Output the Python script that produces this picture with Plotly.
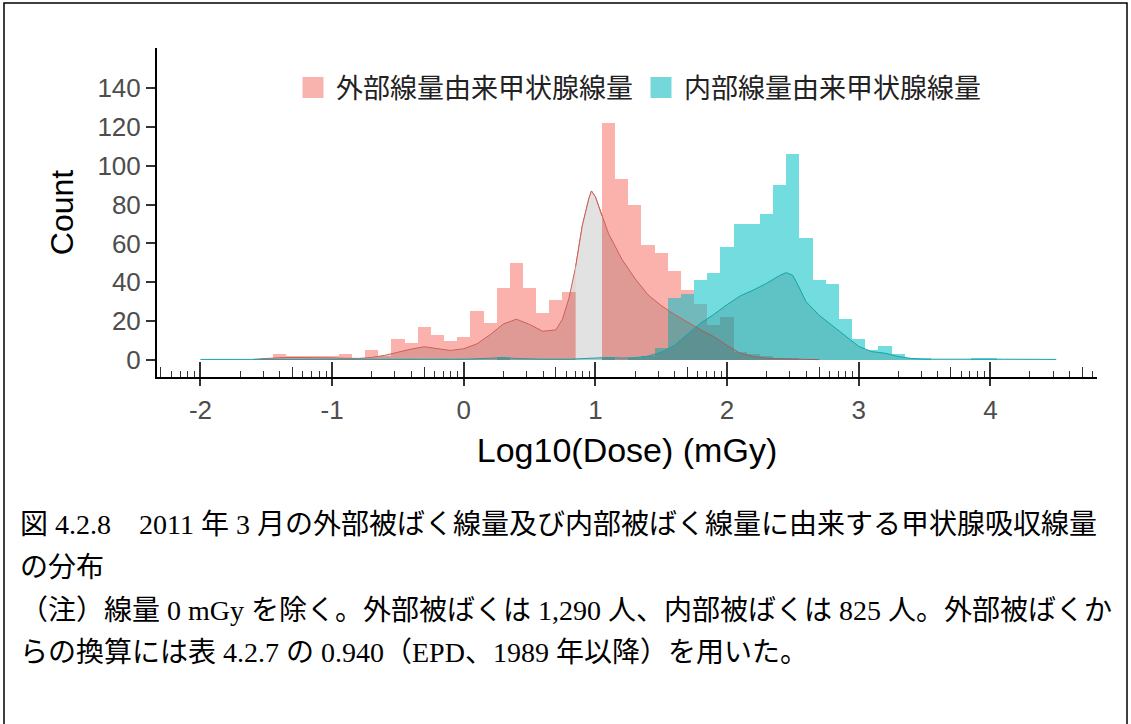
import math
import plotly.graph_objects as go

# ---------------- data ----------------
bin_centers = [-1.5, -1.4, -1.3, -1.2, -1.1, -1.0, -0.9, -0.8, -0.7, -0.6,
               -0.5, -0.4, -0.3, -0.2, -0.1, 0.0, 0.1, 0.2, 0.3, 0.4,
               0.5, 0.6, 0.7, 0.8, 0.9, 1.0, 1.1, 1.2, 1.3, 1.4,
               1.5, 1.6, 1.7, 1.8, 1.9, 2.0, 2.1, 2.2, 2.3, 2.4,
               2.5, 2.6, 2.7, 2.8, 2.9, 3.0, 3.1, 3.2, 3.3, 3.4,
               3.5, 3.6, 3.7, 3.8, 3.9, 4.0]
# external-dose derived thyroid dose counts (bins 0.9 and 1.0 are masked in the source)
ext_counts = [1, 3, 2, 2, 2, 2, 3, 1, 5, 2,
              11, 9, 17, 13, 10, 12, 25, 19, 37, 50,
              37, 24, 31, 35, None, None, 122, 93, 80, 59,
              55, 46, 36, 29, 18, 22, 4, 3, 2, 1,
              1, 0, 0, 0, 0, 0, 0, 0, 0, 0,
              0, 0, 0, 0, 0, 0]
# internal-dose derived thyroid dose counts
int_counts = [0, 0, 0, 0, 0, 0, 0, 0, 0, 0,
              0, 0, 0, 0, 0, 0, 0, 0, 1, 0,
              0, 0, 0, 0, 0, 1, 1, 0, 1, 2,
              6, 32, 34, 41, 45, 58, 70, 70, 75, 90,
              106, 63, 41, 39, 21, 11, 5, 7, 3, 1,
              1, 0, 0, 0, 1, 1]

ext_dens_x = [-1.6, -1.5, -1.4, -1.3, -1.2, -1.1, -1.0, -0.9, -0.8, -0.7,
              -0.6, -0.5, -0.4, -0.3, -0.2, -0.1, 0.0, 0.1, 0.2, 0.3,
              0.4, 0.5, 0.6, 0.7, 0.75, 0.8, 0.85, 0.9, 0.95, 0.97,
              1.0, 1.05, 1.1, 1.2, 1.3, 1.4, 1.5, 1.6, 1.7, 1.8,
              1.9, 2.0, 2.1, 2.2, 2.3, 2.4, 2.5, 2.6, 2.7]
ext_dens_y = [0.3, 0.8, 1.2, 1.3, 1.3, 1.2, 1.1, 0.9, 0.8, 1.3,
              2.4, 4.0, 5.6, 6.8, 6.0, 4.9, 5.8, 8.3, 13.0, 18.5,
              21.0, 18.3, 14.8, 15.5, 21.0, 32.0, 48.0, 69.0, 83.0, 87.0,
              84.0, 74.0, 65.0, 52.0, 42.0, 33.5, 28.0, 23.5, 19.3, 15.5,
              12.0, 7.5, 3.5, 1.8, 0.9, 0.6, 0.4, 0.3, 0.2]

int_dens_x = [-2.0, -1.5, -1.0, -0.5, 0.0, 0.2, 0.3, 0.4, 0.6, 0.8,
              0.9, 1.0, 1.1, 1.2, 1.3, 1.4, 1.5, 1.6, 1.7, 1.8,
              1.9, 2.0, 2.1, 2.2, 2.3, 2.4, 2.45, 2.5, 2.55, 2.6,
              2.7, 2.8, 2.9, 3.0, 3.1, 3.2, 3.3, 3.4, 3.5, 3.8,
              3.95, 4.1, 4.5]
int_dens_y = [0.3, 0.3, 0.3, 0.3, 0.4, 0.9, 1.3, 0.8, 0.4, 0.4,
              0.7, 1.2, 1.3, 1.0, 1.2, 2.0, 4.0, 7.5, 13.5, 19.0,
              23.5, 28.5, 33.0, 36.0, 39.5, 43.5, 45.0, 43.5, 37.0, 30.0,
              23.0, 17.5, 12.5, 7.0, 4.3, 3.5, 1.8, 0.8, 0.4, 0.4,
              0.7, 0.4, 0.3]

masked_range = [0.85, 1.05]   # region shown grey in the source figure

x_tick_vals = [-2, -1, 0, 1, 2, 3, 4]
x_tick_text = ["-2", "-1", "0", "1", "2", "3", "4"]
y_tick_vals = [0, 20, 40, 60, 80, 100, 120, 140]
y_tick_text = ["0", "20", "40", "60", "80", "100", "120", "140"]

series_names = ["外部線量由来甲状腺線量", "内部線量由来甲状腺線量"]
x_title = "Log10(Dose) (mGy)"
y_title = "Count"
caption_lines = [
    "図 4.2.8　2011 年 3 月の外部被ばく線量及び内部被ばく線量に由来する甲状腺吸収線量",
    "の分布",
    "（注）線量 0 mGy を除く。外部被ばくは 1,290 人、内部被ばくは 825 人。外部被ばくか",
    "らの換算には表 4.2.7 の 0.940（EPD、1989 年以降）を用いた。",
]

# ---------------- styling ----------------
W, H = 1131, 724
ML, MR, MT, MB = 157, 34, 48, 347
PW, PH = W - ML - MR, H - MT - MB
X_RANGE = [-2.33, 4.81]
Y_RANGE = [-8.75, 160.6]

PINK_BAR = "rgba(248,118,109,0.56)"
TEAL_BAR = "rgba(0,191,196,0.55)"
PINK_DENS_FILL = "rgba(120,60,55,0.20)"
TEAL_DENS_FILL = "rgba(15,90,95,0.20)"
PINK_LINE = "rgb(205,95,90)"
TEAL_LINE = "rgb(20,165,170)"
MASK_GREY = "#E2E2E2"


def px_x(px):
    return (px - ML) / PW


def px_y(py):
    return (H - MB - py) / PH


fig = go.Figure()

fig.add_trace(go.Bar(x=bin_centers, y=ext_counts, width=0.1, marker=dict(color=PINK_BAR, line=dict(width=0)),
                     name=series_names[0], showlegend=False))
fig.add_trace(go.Bar(x=bin_centers, y=int_counts, width=0.1, marker=dict(color=TEAL_BAR, line=dict(width=0)),
                     name=series_names[1], showlegend=False))

fig.add_trace(go.Scatter(x=ext_dens_x, y=ext_dens_y, mode="lines", fill="tozeroy",
                         fillcolor=PINK_DENS_FILL, line=dict(color=PINK_LINE, width=1),
                         showlegend=False, hoverinfo="skip"))

mx = [x for x in ext_dens_x if masked_range[0] <= x <= masked_range[1]]
my = [y for x, y in zip(ext_dens_x, ext_dens_y) if masked_range[0] <= x <= masked_range[1]]
fig.add_trace(go.Scatter(x=mx, y=my, mode="lines", fill="tozeroy", fillcolor=MASK_GREY,
                         line=dict(color=PINK_LINE, width=1), showlegend=False, hoverinfo="skip"))

fig.add_trace(go.Scatter(x=int_dens_x, y=int_dens_y, mode="lines", fill="tozeroy",
                         fillcolor=TEAL_DENS_FILL, line=dict(color=TEAL_LINE, width=1),
                         showlegend=False, hoverinfo="skip"))

# legend entries (large square swatches)
for name, col in zip(series_names, ["#F9B3AF", "#74D8DB"]):
    fig.add_trace(go.Scatter(x=[None], y=[None], mode="markers", name=name,
                             marker=dict(symbol="square", size=16, color=col,
                                         line=dict(color=col, width=5))))

# log tick decorations (annotation_logticks style)
decades = [-3, -2, -1, 0, 1, 2, 3, 4]
short_ticks = [d + math.log10(k) for d in decades for k in (2, 3, 4, 6, 7, 8, 9)
               if X_RANGE[0] <= d + math.log10(k) <= X_RANGE[1]]
mid_ticks = [d + math.log10(5) for d in decades if X_RANGE[0] <= d + math.log10(5) <= X_RANGE[1]]

axis_font = dict(family="Liberation Sans, Arial, sans-serif", size=26, color="#4D4D4D")
title_font = dict(family="Liberation Sans, Arial, sans-serif", size=32, color="#000000")
xtitle_font = dict(family="Liberation Sans, Arial, sans-serif", size=34, color="#000000")

fig.update_layout(
    width=W, height=H,
    margin=dict(l=ML, r=MR, t=MT, b=MB, autoexpand=False),
    paper_bgcolor="white", plot_bgcolor="white",
    barmode="overlay", bargap=0,
    legend=dict(orientation="h", x=px_x(638), y=px_y(88), xanchor="center", yanchor="middle",
                bgcolor="rgba(0,0,0,0)",
                font=dict(family="Noto Sans CJK JP, sans-serif", size=27, color="#222222"),
                itemwidth=36, tracegroupgap=0),
    xaxis=dict(range=X_RANGE, showgrid=False, zeroline=False, showline=True, linecolor="black",
               linewidth=2, tickmode="array", tickvals=x_tick_vals, ticktext=x_tick_text,
               ticks="outside", ticklen=7, tickwidth=1.5, tickcolor="#333333",
               tickfont=axis_font, ticklabelstandoff=2,
               minor=dict(tickmode="array", tickvals=short_ticks, ticks="inside", ticklen=6,
                          tickwidth=1.2, tickcolor="#333333"),
               title=dict(text=x_title, font=xtitle_font, standoff=14)),
    xaxis2=dict(range=X_RANGE, overlaying="x", anchor="y", side="bottom", showgrid=False,
                zeroline=False, showline=False, showticklabels=False, tickmode="array",
                tickvals=x_tick_vals, ticks="inside", ticklen=15, tickwidth=1.5, tickcolor="#333333",
                minor=dict(tickmode="array", tickvals=mid_ticks, ticks="inside", ticklen=10,
                           tickwidth=1.2, tickcolor="#333333")),
    yaxis=dict(range=Y_RANGE, showgrid=False, zeroline=False, showline=True, linecolor="black",
               linewidth=2, tickmode="array", tickvals=y_tick_vals, ticktext=y_tick_text,
               ticks="outside", ticklen=9, tickwidth=1.5, tickcolor="#333333",
               tickfont=axis_font,
               title=dict(text=y_title, font=title_font, standoff=14)),
)

# invisible trace so the decorative overlay axis is drawn
fig.add_trace(go.Scatter(x=[None], y=[None], xaxis="x2", yaxis="y", showlegend=False, hoverinfo="skip"))

cap_font = dict(family="Liberation Serif, Noto Sans CJK JP, serif", size=28, color="#000000")
cap_y = [524, 567, 610, 652]
for txt, py in zip(caption_lines, cap_y):
    fig.add_annotation(text=txt, xref="paper", yref="paper", x=px_x(18), y=px_y(py),
                       xanchor="left", yanchor="middle", showarrow=False, font=cap_font)

# outer frame
fig.add_shape(type="rect", xref="paper", yref="paper", x0=px_x(4), x1=px_x(1127),
              y0=px_y(730), y1=px_y(3), line=dict(color="black", width=1.5), fillcolor="rgba(0,0,0,0)",
              layer="above")

fig.write_html("out.html")
